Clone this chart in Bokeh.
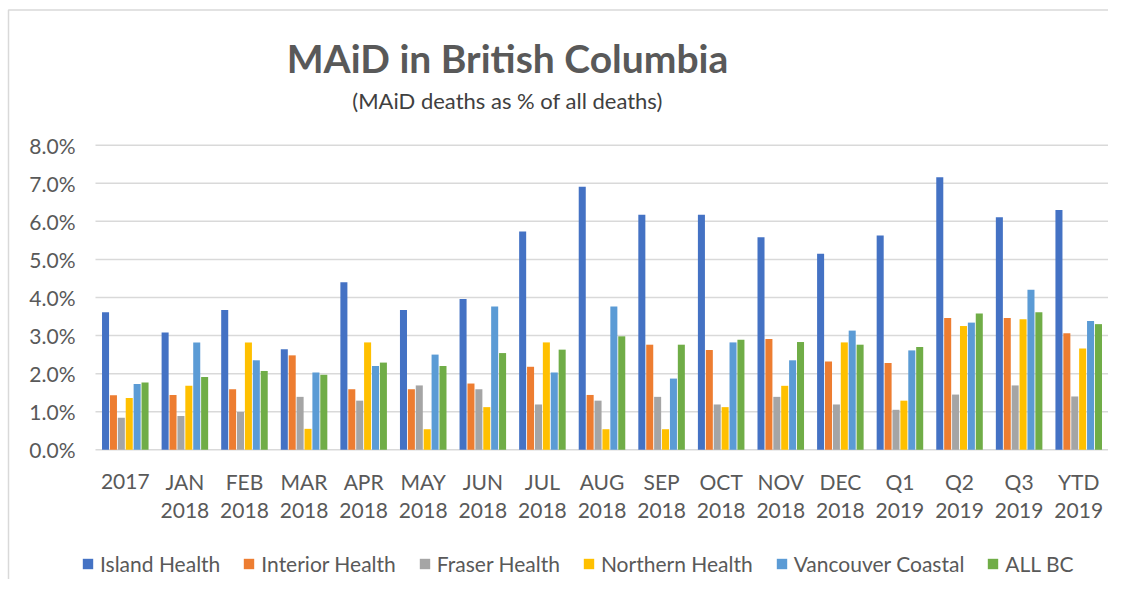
import numpy as np
from bokeh.plotting import figure
from bokeh.models import Range1d, Legend, LegendItem, Label, ColumnDataSource
from bokeh.core.properties import value
from bokeh.embed import file_html
from bokeh.resources import INLINE

categories = ["2017", "JAN\n2018", "FEB\n2018", "MAR\n2018", "APR\n2018", "MAY\n2018",
              "JUN\n2018", "JUL\n2018", "AUG\n2018", "SEP\n2018", "OCT\n2018", "NOV\n2018",
              "DEC\n2018", "Q1\n2019", "Q2\n2019", "Q3\n2019", "YTD\n2019"]

island     = [3.61, 3.08, 3.67, 2.64, 4.40, 3.67, 3.96, 5.73, 6.91, 6.17, 6.17, 5.58, 5.15, 5.63, 7.16, 6.11, 6.30]
interior   = [1.43, 1.44, 1.59, 2.48, 1.59, 1.59, 1.74, 2.18, 1.44, 2.76, 2.62, 2.91, 2.32, 2.28, 3.46, 3.46, 3.06]
fraser     = [0.84, 0.89, 0.99, 1.39, 1.29, 1.69, 1.59, 1.19, 1.29, 1.39, 1.19, 1.39, 1.19, 1.05, 1.45, 1.69, 1.40]
northern   = [1.36, 1.68, 2.82, 0.55, 2.82, 0.54, 1.12, 2.82, 0.54, 0.54, 1.12, 1.68, 2.82, 1.29, 3.25, 3.43, 2.66]
vancouver  = [1.73, 2.82, 2.35, 2.03, 2.20, 2.50, 3.76, 2.03, 3.76, 1.87, 2.82, 2.35, 3.13, 2.61, 3.34, 4.20, 3.38]
all_bc     = [1.77, 1.91, 2.07, 1.97, 2.29, 2.20, 2.54, 2.63, 2.98, 2.76, 2.89, 2.83, 2.76, 2.70, 3.58, 3.61, 3.30]

series_names = ["Island Health", "Interior Health", "Fraser Health", "Northern Health", "Vancouver Coastal", "ALL BC"]
series_values = [island, interior, fraser, northern, vancouver, all_bc]
colors = ["#4472C4", "#ED7D31", "#A5A5A5", "#FFC000", "#5B9BD5", "#70AD47"]
y_ticks = [0, 1, 2, 3, 4, 5, 6, 7, 8]
y_tick_labels = ["0.0%", "1.0%", "2.0%", "3.0%", "4.0%", "5.0%", "6.0%", "7.0%", "8.0%"]

FONT = "Lato"
GREY = "#595959"
GRID = "#D9D9D9"

n = len(categories)
x_center = np.arange(n) + 0.5

p = figure(x_range=Range1d(-1.5942, 17.0), y_range=Range1d(-3.407, 11.80),
           width=1108, height=579, output_backend="svg", toolbar_location=None,
           x_axis_location=None, y_axis_location=None,
           min_border_left=0, min_border_right=0, min_border_top=0, min_border_bottom=0)
p.outline_line_color = None
p.grid.visible = False

# chart-area border (top and left edges)
p.line(x=[-1.460, -1.460, 17.0], y=[-3.407, 11.55, 11.55], line_color=GRID, line_width=1.5)

# horizontal gridlines
p.segment(x0=0, x1=n, y0=y_ticks, y1=y_ticks, line_color=GRID, line_width=1.5)

# y tick labels
p.text(x=-0.336, y=y_ticks, text=y_tick_labels, text_align="right", text_baseline="middle",
       text_font=value(FONT), text_font_size="21px", text_color=GREY)

pitch = 0.1326
items = []
for i, (name, col, vals) in enumerate(zip(series_names, colors, series_values)):
    src = ColumnDataSource(dict(x=x_center + (i - 2.5) * pitch, top=vals))
    r = p.vbar(x="x", top="top", source=src, width=0.118, fill_color=col, line_color=None)
    items.append(LegendItem(label=name, renderers=[r]))

# category labels (two lines) under the bars
lab = ColumnDataSource(dict(x=x_center,
                            line1=[c.split("\n")[0] for c in categories],
                            line2=[c.split("\n")[1] if "\n" in c else "" for c in categories]))
p.text(x="x", y=-0.833, text="line1", source=lab, text_align="center", text_baseline="middle",
       text_font=value(FONT), text_font_size="21px", text_color=GREY)
p.text(x="x", y=-1.594, text="line2", source=lab, text_align="center", text_baseline="middle",
       text_font=value(FONT), text_font_size="21px", text_color=GREY)

legend = Legend(items=items, orientation="horizontal", location=(81, 3),
                padding=0, margin=0, spacing=22, label_standoff=6,
                glyph_width=13, glyph_height=13,
                label_text_font=FONT, label_text_font_size="21px", label_text_color=GREY,
                border_line_color=None, background_fill_alpha=0)
p.add_layout(legend, "center")

title = Label(x=6.914, y=10.28, text="MAiD in British Columbia", text_align="center",
              text_baseline="middle", text_font=FONT, text_font_size="39px",
              text_font_style="bold", text_color=GREY)
subtitle = Label(x=6.914, y=9.17, text="(MAiD deaths as % of all deaths)", text_align="center",
                 text_baseline="middle", text_font=FONT, text_font_size="22px", text_color="#404040")
p.add_layout(title)
p.add_layout(subtitle)

open("out.html", "w").write(file_html(p, INLINE))
